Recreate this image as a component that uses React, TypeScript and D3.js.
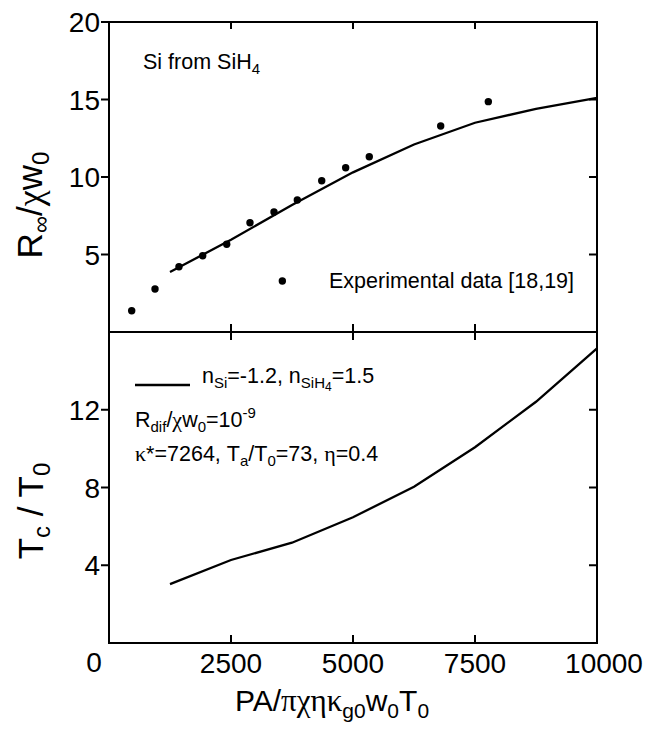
import React from "react";
import * as d3 from "d3";

// ---- data ----
const expX = [465, 943, 1434, 1920, 2412, 2889, 3381, 3859, 4359, 4850, 5334, 6797, 7773];
const expY = [1.37, 2.77, 4.21, 4.92, 5.66, 7.05, 7.74, 8.52, 9.76, 10.6, 11.31, 13.29, 14.86];

const rateX = [1250, 2500, 3750, 5000, 6250, 7500, 8750, 10000];
const rateY = [3.87, 5.95, 8.2, 10.3, 12.1, 13.5, 14.4, 15.1];

const tempX = [1250, 2500, 3750, 5000, 6250, 7500, 8750, 10000];
const tempY = [3.03, 4.27, 5.16, 6.47, 8.04, 10.07, 12.41, 15.16];

const xTicks = [2500, 5000, 7500, 10000];
const topYTicks = [5, 10, 15, 20];
const botYTicks = [4, 8, 12];

const legendPoint = { x: 3552, y: 3.29 };

const W = 655;
const H = 738;
const FONT = "'Liberation Sans', Arial, Helvetica, sans-serif";
const GREEK = "'Liberation Serif', 'Times New Roman', serif";

export default function App() {
  const x = d3.scaleLinear().domain([0, 10000]).range([109, 597]);
  const yTop = d3.scaleLinear().domain([0, 20]).range([332, 22]);
  const yBot = d3.scaleLinear().domain([0, 16]).range([643, 332]);

  const [x0, x1] = x.range();
  const yTopTop = yTop(20);
  const yMid = yTop(0);
  const yBottom = yBot(0);

  const rateLine = d3
    .line<number>()
    .x((_, i) => x(rateX[i]))
    .y((d) => yTop(d))
    .curve(d3.curveLinear)(rateY);
  const tempLine = d3
    .line<number>()
    .x((_, i) => x(tempX[i]))
    .y((d) => yBot(d))
    .curve(d3.curveLinear)(tempY);

  const tk = 8;
  const sw = 2;
  const innerXTicks = xTicks.filter((t) => t < 10000);

  return (
    <svg
      width={W}
      height={H}
      style={{ position: "absolute", left: 0, top: 0, background: "#fff" }}
      fontFamily={FONT}
    >
      <rect x={0} y={0} width={W} height={H} fill="#fff" />
      {/* frames */}
      <g stroke="#000" strokeWidth={sw} fill="none">
        <rect x={x0} y={yTopTop} width={x1 - x0} height={yBottom - yTopTop} />
        <line x1={x0} x2={x1} y1={yMid} y2={yMid} />
        {innerXTicks.map((t) => (
          <line key={"tt" + t} x1={x(t)} x2={x(t)} y1={yTopTop} y2={yTopTop + tk - 1} />
        ))}
        {innerXTicks.map((t) => (
          <line key={"mt" + t} x1={x(t)} x2={x(t)} y1={yMid - tk} y2={yMid + tk} />
        ))}
        {innerXTicks.map((t) => (
          <line key={"bt" + t} x1={x(t)} x2={x(t)} y1={yBottom} y2={yBottom - tk} />
        ))}
        {topYTicks.map((t) => (
          <line key={"ly" + t} x1={x0 - tk} x2={x0} y1={yTop(t)} y2={yTop(t)} />
        ))}
        {topYTicks
          .filter((t) => t < 20)
          .map((t) => (
            <line key={"ry" + t} x1={x1 - tk} x2={x1} y1={yTop(t)} y2={yTop(t)} />
          ))}
        {botYTicks.map((t) => (
          <line key={"lby" + t} x1={x0 - tk} x2={x0} y1={yBot(t)} y2={yBot(t)} />
        ))}
        {botYTicks.map((t) => (
          <line key={"rby" + t} x1={x1 - tk} x2={x1} y1={yBot(t)} y2={yBot(t)} />
        ))}
      </g>

      {/* tick labels */}
      <g fontSize={28} fill="#000">
        {topYTicks.map((t) => (
          <text key={"lt" + t} x={x0 - 9} y={yTop(t)} dy="0.36em" textAnchor="end">
            {t}
          </text>
        ))}
        {botYTicks.map((t) => (
          <text key={"lb" + t} x={x0 - 9} y={yBot(t)} dy="0.36em" textAnchor="end">
            {t}
          </text>
        ))}
        <text x={x(0) - 15} y={yBottom + 29} textAnchor="middle">
          0
        </text>
        {xTicks.map((t) => (
          <text key={"xt" + t} x={x(t) + (t === 10000 ? 7 : 0)} y={yBottom + 30} textAnchor="middle">
            {t}
          </text>
        ))}
      </g>

      {/* axis titles */}
      <text fontSize={30} x={332} y={711} textAnchor="middle">
        PA/<tspan fontFamily={GREEK} fontSize={31}>πχηκ</tspan>
        <tspan fontSize={21} dy={7}>g0</tspan>
        <tspan dy={-7}>w</tspan>
        <tspan fontSize={21} dy={7}>0</tspan>
        <tspan dy={-7}>T</tspan>
        <tspan fontSize={21} dy={7}>0</tspan>
      </text>
      <text fontSize={35} transform="translate(42,205) rotate(-90)" textAnchor="middle">
        R
        <tspan fontSize={24} dy={7}>∞</tspan>
        <tspan dy={-7}>/</tspan>
        <tspan fontFamily={GREEK} fontSize={36}>χ</tspan>
        <tspan>w</tspan>
        <tspan fontSize={24} dy={7}>0</tspan>
      </text>
      <text fontSize={35} transform="translate(43,511) rotate(-90)" textAnchor="middle">
        T
        <tspan fontSize={24} dy={7}>c</tspan>
        <tspan dy={-7}> / T</tspan>
        <tspan fontSize={24} dy={7}>0</tspan>
      </text>

      {/* lines */}
      <path d={rateLine || ""} fill="none" stroke="#000" strokeWidth={2.3} />
      <path d={tempLine || ""} fill="none" stroke="#000" strokeWidth={2.3} />

      {/* experimental points */}
      {expX.map((v, i) => (
        <circle key={"p" + i} cx={x(v)} cy={yTop(expY[i])} r={3.7} fill="#000" />
      ))}
      <circle cx={x(legendPoint.x)} cy={yTop(legendPoint.y)} r={3.7} fill="#000" />

      {/* annotations */}
      <g fontSize={21.5} fill="#000">
        <text x={143} y={69}>
          Si from SiH<tspan fontSize={15} dy={5}>4</tspan>
        </text>
        <text x={329} y={288}>Experimental data [18,19]</text>

        <line x1={135} x2={190} y1={385} y2={385} stroke="#000" strokeWidth={2.3} />
        <text x={202} y={383}>
          n<tspan fontSize={15} dy={5}>Si</tspan>
          <tspan dy={-5}>=-1.2, n</tspan>
          <tspan fontSize={15} dy={5}>SiH</tspan>
          <tspan fontSize={12} dy={3}>4</tspan>
          <tspan dy={-8}>=1.5</tspan>
        </text>
        <text x={135} y={427}>
          R<tspan fontSize={15} dy={5}>dif</tspan>
          <tspan dy={-5}>/</tspan>
          <tspan fontFamily={GREEK} fontSize={22}>χ</tspan>
          <tspan>w</tspan>
          <tspan fontSize={15} dy={5}>0</tspan>
          <tspan dy={-5}>=10</tspan>
          <tspan fontSize={15} dy={-9}>-9</tspan>
        </text>
        <text x={135} y={461}>
          <tspan fontFamily={GREEK} fontSize={22}>κ</tspan>
          <tspan>*=7264, T</tspan>
          <tspan fontSize={15} dy={5}>a</tspan>
          <tspan dy={-5}>/T</tspan>
          <tspan fontSize={15} dy={5}>0</tspan>
          <tspan dy={-5}>=73, </tspan>
          <tspan fontFamily={GREEK} fontSize={22}>η</tspan>
          <tspan>=0.4</tspan>
        </text>
      </g>
    </svg>
  );
}
